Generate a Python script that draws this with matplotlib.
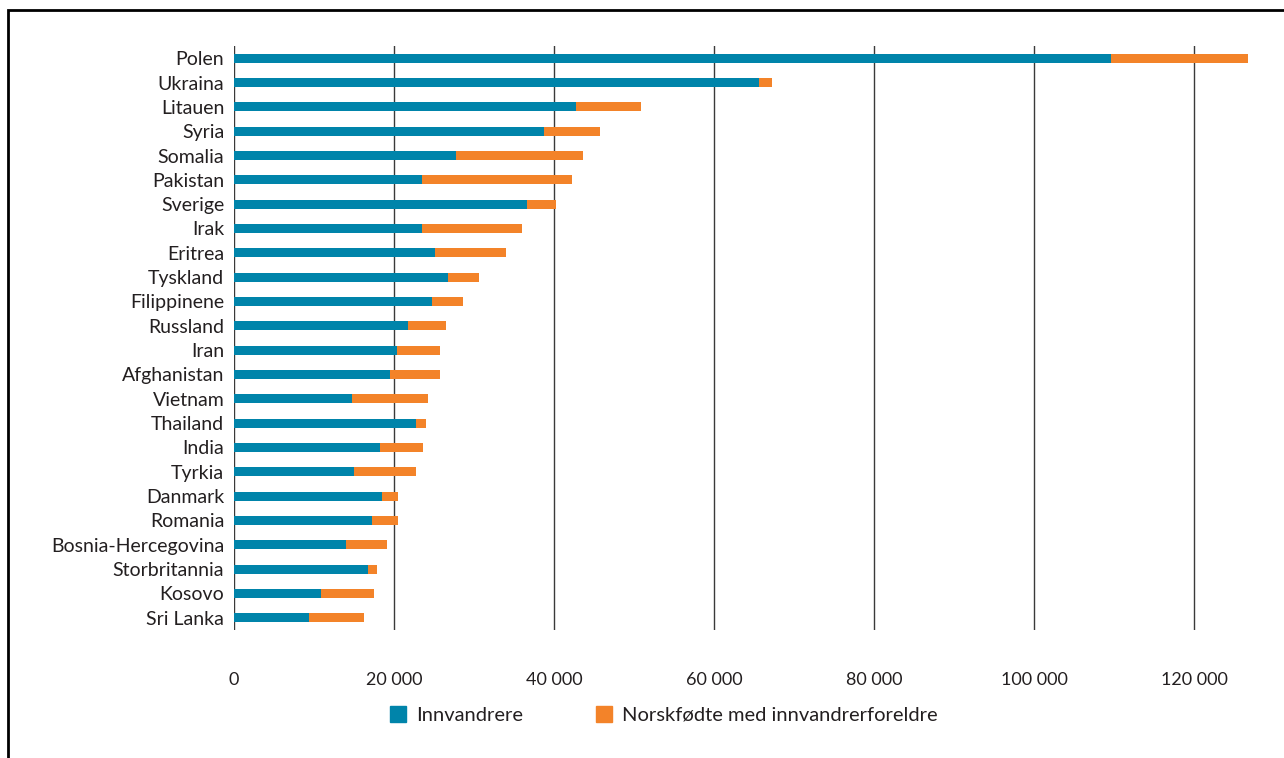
import numpy as np
import matplotlib.pyplot as plt
from matplotlib.patches import Rectangle, Patch
from matplotlib.ticker import FuncFormatter

plt.rcParams['font.family'] = ['Lato', 'DejaVu Sans']

# land, innvandrere og norskfødte med innvandrerforeldre
countries = ['Polen', 'Ukraina', 'Litauen', 'Syria', 'Somalia', 'Pakistan', 'Sverige',
             'Irak', 'Eritrea', 'Tyskland', 'Filippinene', 'Russland', 'Iran',
             'Afghanistan', 'Vietnam', 'Thailand', 'India', 'Tyrkia', 'Danmark',
             'Romania', 'Bosnia-Hercegovina', 'Storbritannia', 'Kosovo', 'Sri Lanka']
innvandrere = [109600, 65600, 42800, 38700, 27700, 23550, 36600,
               23550, 25150, 26800, 24700, 21700, 20350,
               19550, 14700, 22700, 18300, 14950, 18550,
               17300, 13950, 16700, 10900, 9400]
norskfodte = [17200, 1700, 8100, 7000, 15900, 18700, 3700,
              12400, 8900, 3800, 3900, 4750, 5450,
              6150, 9600, 1300, 5300, 7750, 2000,
              3150, 5200, 1150, 6650, 6900]
xticks = [0, 20000, 40000, 60000, 80000, 100000, 120000]

blue = '#0084AA'
orange = '#F38329'

fig = plt.figure(figsize=(12.84, 7.58), dpi=100)
ax = fig.add_axes([0.1822, 0.1689, 0.7944, 0.7704])

y = np.arange(len(countries))
ax.barh(y, innvandrere, height=0.37, color=blue, zorder=3, label='Innvandrere')
ax.barh(y, norskfodte, left=innvandrere, height=0.37, color=orange, zorder=3,
        label='Norskfødte med innvandrerforeldre')

ax.set_ylim(len(countries) - 0.5, -0.5)
ax.set_xlim(0, 127500)
ax.set_yticks(y)
ax.set_yticklabels(countries, fontsize=14, color='#231f20')
ax.set_xticks(xticks)
ax.xaxis.set_major_formatter(FuncFormatter(lambda v, p: f'{int(v):,}'.replace(',', ' ')))
ax.tick_params(axis='x', labelsize=13, colors='#231f20', length=0, pad=30)
ax.tick_params(axis='y', length=0, pad=7)
for s in ax.spines.values():
    s.set_visible(False)
ax.grid(axis='x', color='#3a3a3a', lw=1, zorder=0)

handles = [Patch(color=blue), Patch(color=orange)]
fig.legend(handles, ['Innvandrere', 'Norskfødte med innvandrerforeldre'],
           loc='center', bbox_to_anchor=(0.5168, 0.0567), ncol=2, frameon=False,
           fontsize=14.5, handlelength=0.8, handleheight=0.8, handletextpad=0.5,
           columnspacing=3.6, labelcolor='#231f20')

fig.add_artist(Rectangle((0.0066, -0.5), 2, 0.9868 + 0.5, fill=False, lw=2,
                         edgecolor='black', transform=fig.transFigure))

fig.savefig('out.png', dpi=100)
